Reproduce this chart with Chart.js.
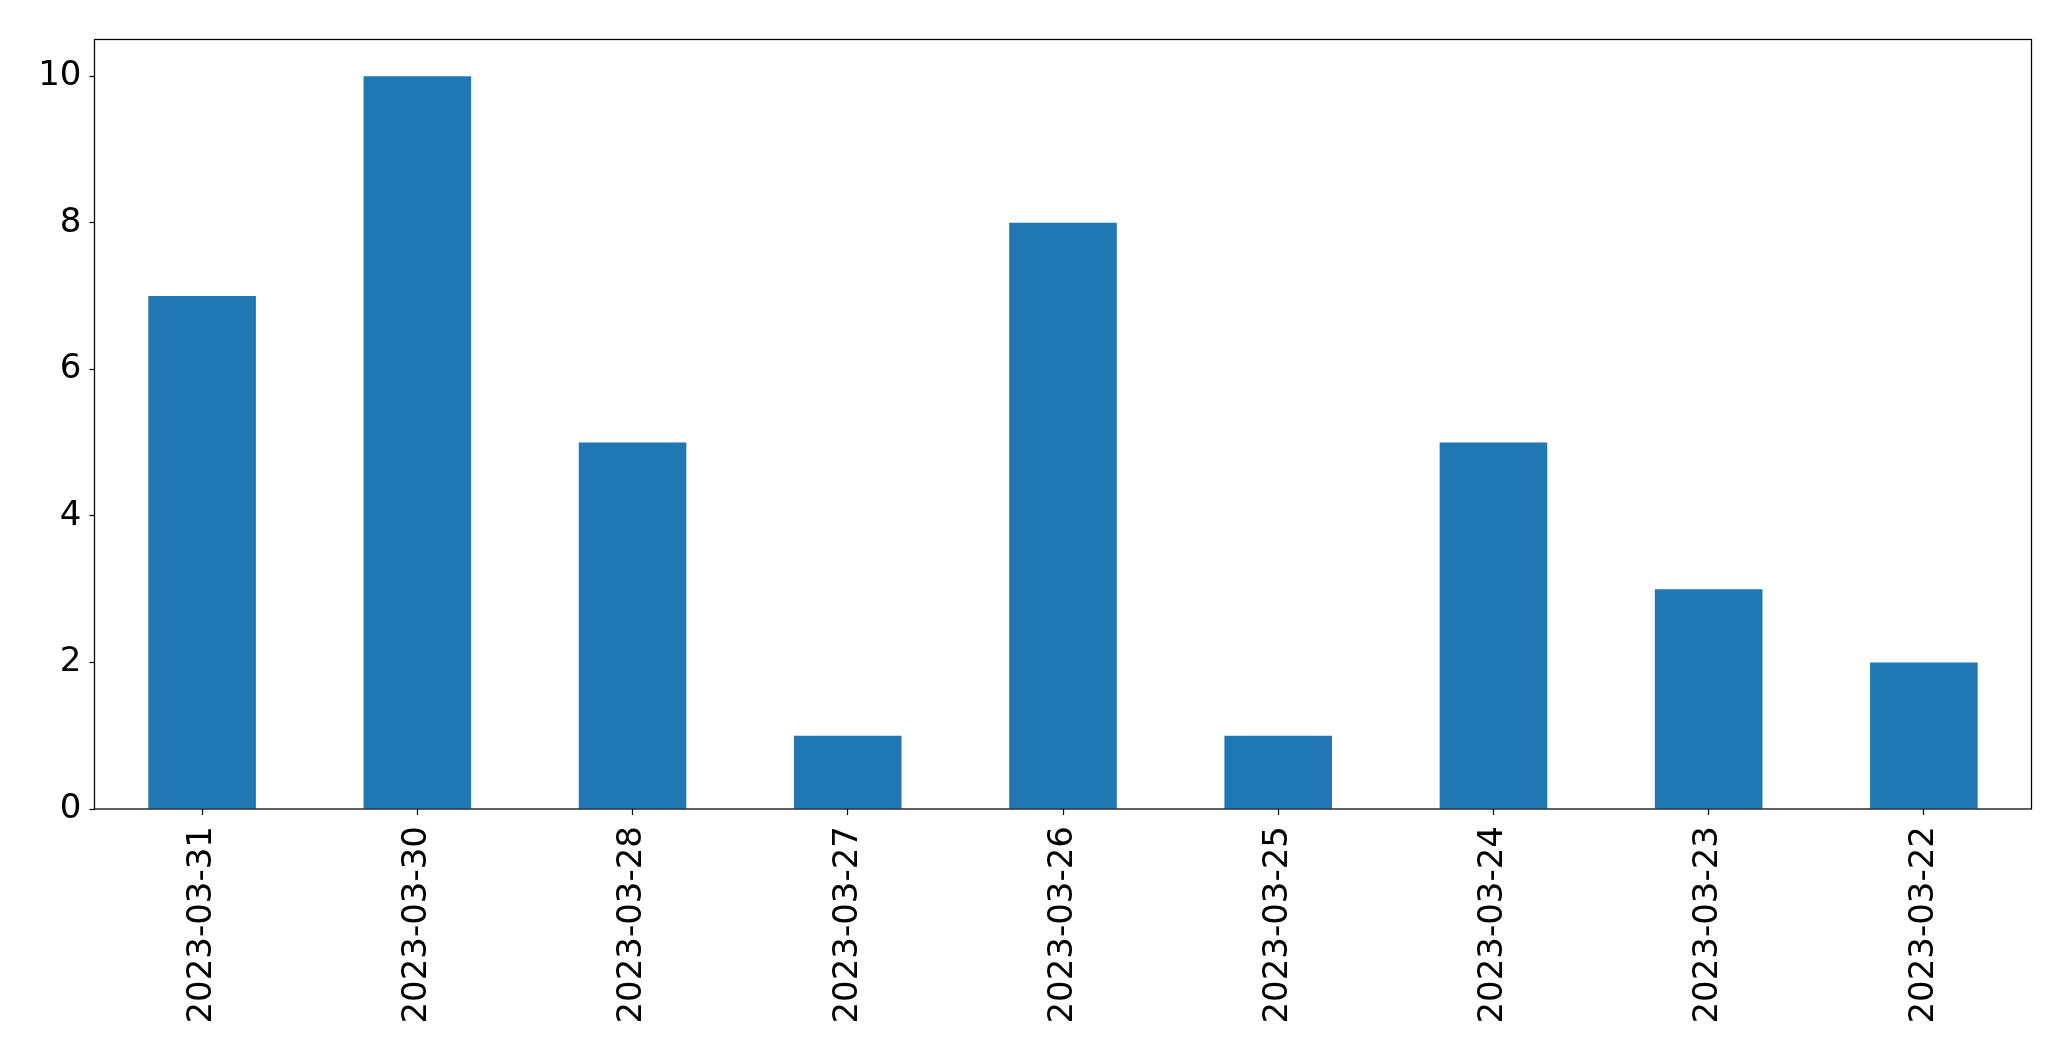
<!DOCTYPE html>
<html>
<head>
<meta charset="utf-8">
<script src="https://cdn.jsdelivr.net/npm/chart.js@4/dist/chart.umd.min.js"></script>
<style>
  html, body { margin: 0; padding: 0; background: #fff; }
  #wrap { width: 2071px; height: 1061px; }
</style>
</head>
<body>
<div id="wrap"><canvas id="myChart" width="2071" height="1061"></canvas></div>
<script>
// dates as they appear on the x axis (newest first)
var dates = ['2023-03-31', '2023-03-30', '2023-03-28', '2023-03-27', '2023-03-26',
             '2023-03-25', '2023-03-24', '2023-03-23', '2023-03-22'];
var counts = [7, 10, 5, 1, 8, 1, 5, 3, 2];
var yTicks = [0, 2, 4, 6, 8, 10];

/* draw the black box round the plot area */
var frame = {
    id: 'frame',
    afterDatasetsDraw: function(chart) {
        var a = chart.chartArea;
        var ctx = chart.ctx;
        ctx.save();
        ctx.strokeStyle = '#000';
        ctx.lineWidth = 1.25;
        ctx.strokeRect(a.left, a.top, a.right - a.left, a.bottom - a.top);
        ctx.restore();
    }
};

var tickFont = { family: 'DejaVu Sans', size: 34 };

var ctx = document.querySelector('#myChart').getContext('2d');
var myChart = new Chart(ctx, {
    type: 'bar',
    data: {
        labels: dates,
        datasets: [{
            data: counts,
            backgroundColor: '#1f77b4',
            borderWidth: 0,
            categoryPercentage: 1.0,
            barPercentage: 0.5
        }]
    },
    options: {
        responsive: false,
        animation: false,
        devicePixelRatio: 1,
        layout: { padding: { top: 39.5, right: 39.5, left: 0, bottom: 0 } },
        plugins: {
            legend: { display: false },
            tooltip: { enabled: false }
        },
        scales: {
            x: {
                offset: true,
                border: { display: false },
                grid: {
                    display: true,
                    offset: false,
                    drawOnChartArea: false,
                    tickLength: 6,
                    tickColor: '#000',
                    tickWidth: 1.25
                },
                ticks: {
                    autoSkip: false,
                    minRotation: 90,
                    maxRotation: 90,
                    padding: 11,
                    color: '#000',
                    font: tickFont
                },
                afterFit: function(axis) { axis.height = 252; }
            },
            y: {
                min: 0,
                max: 10.5,
                border: { display: false },
                grid: {
                    display: true,
                    drawOnChartArea: false,
                    tickLength: 5,
                    tickColor: '#000',
                    tickWidth: 1.25
                },
                ticks: {
                    padding: 8,
                    color: '#000',
                    font: tickFont
                },
                afterBuildTicks: function(axis) {
                    axis.ticks = yTicks.map(function(v) { return { value: v }; });
                },
                afterFit: function(axis) { axis.width = 94.5; }
            }
        }
    },
    plugins: [frame]
});
</script>
</body>
</html>
